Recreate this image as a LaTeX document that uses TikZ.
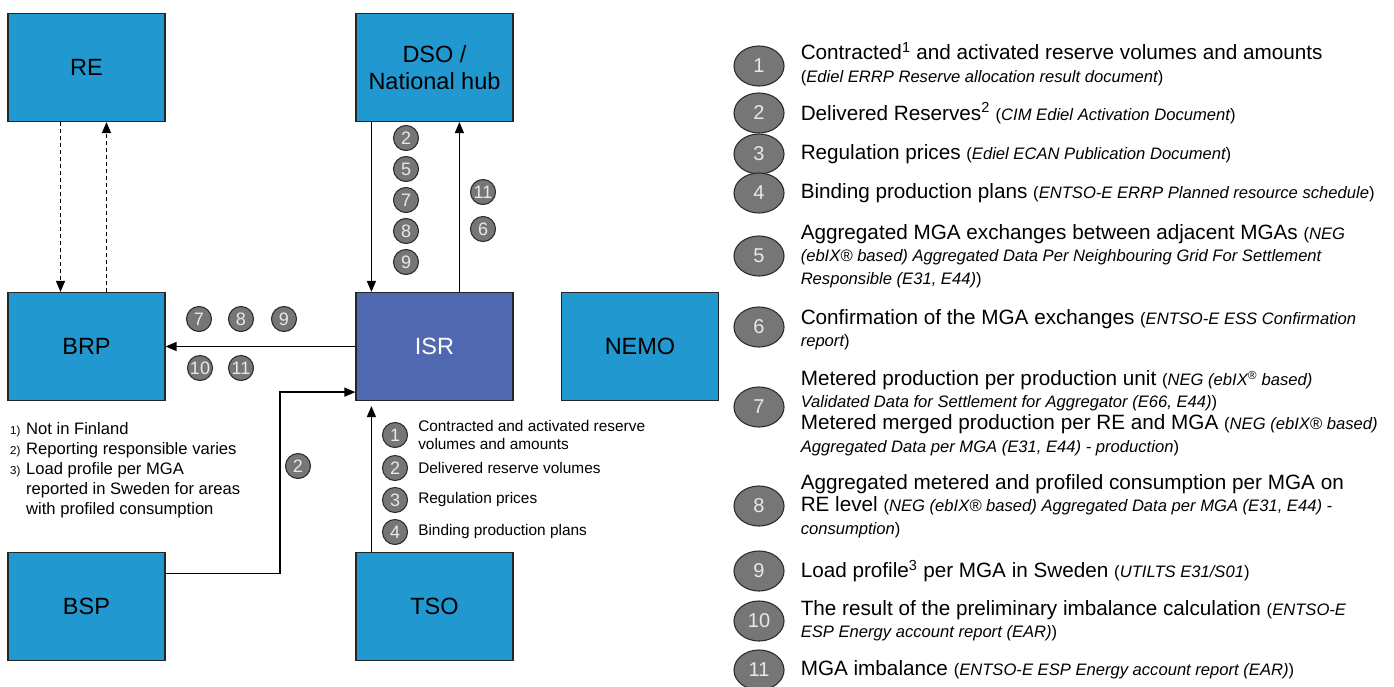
\documentclass[tikz,border=0pt]{standalone}
\usepackage{fontspec}
\setmainfont{Liberation Sans}
\usetikzlibrary{arrows.meta,positioning,shapes.geometric}

\definecolor{boxblue}{RGB}{33,152,208}
\definecolor{isrblue}{RGB}{80,104,176}
\definecolor{taggray}{RGB}{118,118,118}
\definecolor{tagedge}{RGB}{45,45,45}
\definecolor{tagtext}{RGB}{232,232,232}

\tikzset{
    party/.style={draw=black!85, line width=1.2pt, fill=boxblue, minimum width=157pt,
        minimum height=108pt, inner sep=0pt, align=center, font=\fontsize{23.5}{27}\selectfont},
    tag/.style={circle, draw=tagedge, line width=1.1pt, fill=taggray, text=tagtext,
        minimum size=25pt, inner sep=0pt, font=\fontsize{18}{18}\selectfont},
    bigtag/.style={ellipse, draw=tagedge, line width=1.1pt, fill=taggray, text=tagtext,
        minimum width=50pt, minimum height=40pt, inner sep=0pt, font=\fontsize{20}{20}\selectfont},
    flow/.style={line width=1.3pt, line join=miter, -{Triangle[length=11pt,width=9pt]}},
    info/.style={anchor=west, inner sep=0pt, align=left, font=\fontsize{20.7}{22.3}\selectfont},
    small/.style={anchor=west, inner sep=0pt, align=left, font=\fontsize{15.4}{18}\selectfont},
}

\newcommand{\refs}[1]{{\fontsize{16.6}{22.3}\selectfont\itshape #1}}
\newcommand{\rp}[1]{{\fontsize{16.6}{22.3}\selectfont #1}}
\newcommand{\fn}[1]{\makebox[16pt][l]{\fontsize{11.5}{11.5}\selectfont #1}}

\begin{document}
\begin{tikzpicture}[x=1pt,y=-1pt]

        \useasboundingbox (0,0) rectangle (1394,686);

        % the parties
        \node[party] (re) at (86.5,67.5) {RE};
        \node[party] (dso) at (434.5,67.5) {DSO /\\National hub};
        \node[party] (brp) at (86.5,346.5) {BRP};
        \node[party, fill=isrblue, text=white] (isr) at (434.5,346.5) {ISR};
        \node[party] (nemo) at (640,346.5) {NEMO};
        \node[party] (bsp) at (86.5,606.5) {BSP};
        \node[party] (tso) at (434.5,606.5) {TSO};

        % RE <-> BRP
        \draw[flow, dash pattern=on 4pt off 3pt] ([xshift=-26pt]re.south) -- ([xshift=-26pt]brp.north);
        \draw[flow, dash pattern=on 4pt off 3pt] ([xshift=20pt]brp.north) -- ([xshift=20pt]re.south);

        % DSO <-> ISR
        \draw[flow] ([xshift=16pt]dso.south west) -- ([xshift=16pt]isr.north west);
        \draw[flow] ([xshift=104pt]isr.north west) -- ([xshift=104pt]dso.south west);

        \draw[flow] (isr.west) -- (brp.east);

        \coordinate (bend) at (280,480);
        \draw[flow] ([yshift=33pt]bsp.east) -| (bend) |- ([yshift=9pt]isr.south west);

        \draw[flow] ([xshift=16pt]tso.north west) -- ([xshift=16pt,yshift=-5pt]isr.south west);

        % Draw tags
        \foreach \n/\y in {2/138,5/169,7/200,8/231,9/262}{
            \node[tag] (d\n) at (406,\y) {\n};
        }
        \node[tag] (u11) at (483,192) {11};
        \node[tag] (u6) at (483,229) {6};
        \foreach \n/\x in {7/199,8/241,9/284}{
            \node[tag] (b\n) at (\x,319) {\n};
        }
        \node[tag] (b10) at (200,368) {10};
        \node[tag] (b11) at (241,368) {11};
        \node[tag] (s2) at (298,466) {2};

        \foreach \n/\y in {1/435,2/468,3/500,4/532}{
            \node[tag] (ts\n) at (395,\y) {\n};
        }
        \node[small, right=10pt of ts1] (tl1) {Contracted and activated reserve\\volumes and amounts};
        \node[small, right=10pt of ts2] (tl2) {Delivered reserve volumes};
        \node[small, right=10pt of ts3] (tl3) {Regulation prices};
        \node[small, right=10pt of ts4] (tl4) {Binding production plans};

        % notes
        \node[anchor=west, inner sep=0pt, align=left, font=\fontsize{16.6}{20}\selectfont] (notes) at (10,470)
            {\fn{1)}Not in Finland\\ \fn{2)}Reporting responsible varies\\ \fn{3)}Load profile per MGA\\
             \hspace*{16pt}reported in Sweden for areas\\ \hspace*{16pt}with profiled consumption};

        % legend
        \foreach \n/\y in {1/66,2/113,3/154,4/193,5/256,6/327,7/407,8/506,9/571,10/621,11/670}{
            \node[bigtag] (k\n) at (759,\y) {\n};
        }
        \node[info, right=16pt of k1, yshift=2pt] (i1) {Contracted\textsuperscript{1} and activated reserve volumes and amounts\\
            \rp{(}\refs{Ediel ERRP Reserve allocation result document}\rp{)}};
        \node[info, right=16pt of k2] (i2) {Delivered Reserves\textsuperscript{2} \rp{(}\refs{CIM Ediel Activation Document}\rp{)}};
        \node[info, right=16pt of k3] (i3) {Regulation prices \rp{(}\refs{Ediel ECAN Publication Document}\rp{)}};
        \node[info, right=16pt of k4] (i4) {Binding production plans \rp{(}\refs{ENTSO-E ERRP Planned resource schedule}\rp{)}};
        \node[info, right=16pt of k5] (i5) {Aggregated MGA exchanges between adjacent MGAs \rp{(}\refs{NEG}\\
            \refs{(ebIX® based) Aggregated Data Per Neighbouring Grid For Settlement}\\
            \refs{Responsible (E31, E44)}\rp{)}};
        \node[info, right=16pt of k6, yshift=-3pt] (i6) {Confirmation of the MGA exchanges \rp{(}\refs{ENTSO-E ESS Confirmation}\\
            \refs{report}\rp{)}};
        \node[info, right=16pt of k7, yshift=-6pt] (i7) {Metered production per production unit \rp{(}\refs{NEG (ebIX\textsuperscript{®} based)}\\
            \refs{Validated Data for Settlement for Aggregator (E66, E44)}\rp{)}\\
            Metered merged production per RE and MGA \rp{(}\refs{NEG (ebIX® based)}\\
            \refs{Aggregated Data per MGA (E31, E44) - production}\rp{)}};
        \node[info, right=16pt of k8] (i8) {Aggregated metered and profiled consumption per MGA on\\
            RE level \rp{(}\refs{NEG (ebIX® based) Aggregated Data per MGA (E31, E44) -}\\
            \refs{consumption}\rp{)}};
        \node[info, right=16pt of k9] (i9) {Load profile\textsuperscript{3} per MGA in Sweden \rp{(}\refs{UTILTS E31/S01}\rp{)}};
        \node[info, right=16pt of k10] (i10) {The result of the preliminary imbalance calculation \rp{(}\refs{ENTSO-E}\\
            \refs{ESP Energy account report (EAR)}\rp{)}};
        \node[info, right=16pt of k11] (i11) {MGA imbalance \rp{(}\refs{ENTSO-E ESP Energy account report (EAR)}\rp{)}};

\end{tikzpicture}
\end{document}
